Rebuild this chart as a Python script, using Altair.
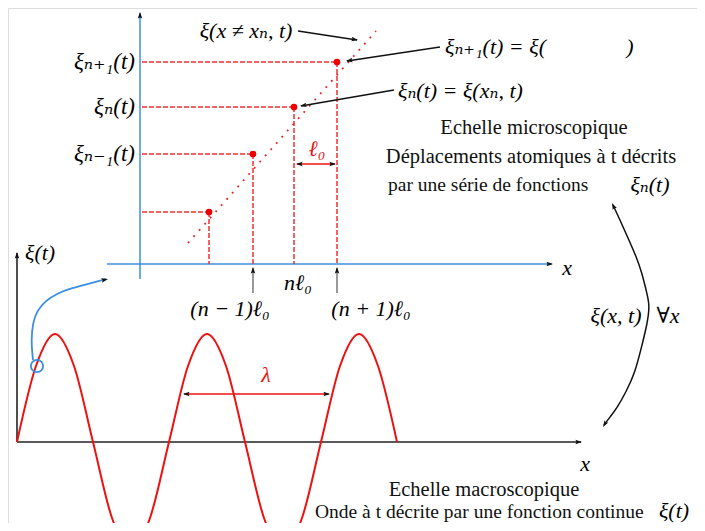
import math
import altair as alt
import pandas as pd

# ---------------- data (diagram units = picture pixels) ----------------
# top panel: atoms
atom_x = [209, 253, 294, 337]
atom_y = [212, 154, 107, 62]
axis_top_y = 264
axis_top_x0 = 142

# macroscopic wave: samples read every 1/8 period
wave_x = [17, 36, 55, 74, 93, 112, 131, 150, 169, 188, 207, 226, 245, 264, 283, 302, 321, 340, 359, 378, 397]
wave_y = [442, 366, 334, 366, 442, 518, 550, 518, 442, 366, 334, 366, 442, 518, 550, 518, 442, 366, 334, 366, 442]

# blue curve from circle to the top panel
blue_curve_x = [33, 31, 33, 37, 45, 58, 72, 88, 106]
blue_curve_y = [360, 340, 322, 311, 301, 293, 288, 284, 279]

# big double arrow arc
arc_x = [613, 620, 628, 636, 642, 646, 650, 647, 642, 635, 626, 617, 610, 604]
arc_y = [205, 220, 238, 256, 273, 290, 305, 325, 345, 373, 392, 408, 417, 425]

# straight segments: (x1, y1, x2, y2)
blue_segs = [(140, 279, 140, 13), (107, 264, 552, 264)]
red_dash_segs = [(axis_top_x0, y, x, y) for x, y in zip(atom_x, atom_y)] + \
                [(x, y, x, axis_top_y) for x, y in zip(atom_x, atom_y)]
red_dot_segs = [(188, 243, 376, 31)]
black_segs = [(298, 31, 357, 40), (440, 47, 347, 61), (394, 90, 301, 106)]
gray_segs = [(253, 293, 253, 268), (337, 293, 337, 268)]
black_axes = [(17, 442, 17, 253), (17, 442, 581, 442)]
red_solid_segs = [(297, 164, 335, 164), (184, 394, 329, 394)]

# arrow heads: (tip x, tip y, direction dx, direction dy)
heads = [
    (140, 12, 0, -1), (553, 264, 1, 0),
    (358, 40, 59, 9), (346, 61, -93, 14), (300, 106, -94, 16),
    (253, 267, 0, -1), (337, 267, 0, -1),
    (296, 164, -1, 0), (336, 164, 1, 0),
    (183, 394, -1, 0), (330, 394, 1, 0),
    (17, 252, 0, -1), (582, 442, 1, 0),
    (108, 279, 21, -5),
    (612, 203, -7, -15), (603, 427, -8, 13),
]

# texts
math_right = [("ξₙ₊₁(t)", 135, 62), ("ξₙ(t)", 135, 107), ("ξₙ₋₁(t)", 135, 154)]
math_left = [("ξₙ₊₁(t) = ξ(", 445, 47), ("ξₙ(t) = ξ(xₙ, t)", 398, 91), ("ξ(t)", 25, 253)]
math_center = [
    ("ξ(x ≠ xₙ, t)", 246, 31, "black"), (")", 630, 47, "black"),
    ("ℓ₀", 317, 149, "#ee1111"), ("nℓ₀", 298, 283, "black"),
    ("(n − 1)ℓ₀", 230, 309, "black"), ("(n + 1)ℓ₀", 371, 309, "black"),
    ("x", 567, 268, "black"), ("x", 585, 464, "black"),
    ("λ", 266, 375, "#ee1111"), ("ξ(x, t)", 616, 316, "black"),
    ("∀x", 668, 316, "black"), ("ξₙ(t)", 650, 185, "black"),
    ("ξ(t)", 674, 511, "black"),
]
roman_center = [("Echelle microscopique", 534, 128),
                ("Déplacements atomiques à t décrits", 531, 157),
                ("Echelle macroscopique", 484, 490)]
roman_left = [("par une série de fonctions", 388, 185),
              ("Onde à t décrite par une fonction continue", 315, 512)]

# ---------------- chart ----------------
XS = alt.Scale(domain=[8, 697], nice=False, zero=False)
YS = alt.Scale(domain=[523, 8], nice=False, zero=False)


def X(f="x"):
    return alt.X(f"{f}:Q", scale=XS, axis=None)


def Y(f="y"):
    return alt.Y(f"{f}:Q", scale=YS, axis=None)


def seg_df(segs):
    return pd.DataFrame(segs, columns=["x", "y", "x2", "y2"])


def seg_layer(segs, color, width, dash=None):
    kw = dict(color=color, strokeWidth=width)
    if dash:
        kw["strokeDash"] = dash
    return alt.Chart(seg_df(segs)).mark_rule(**kw).encode(
        x=X(), y=Y(), x2="x2:Q", y2="y2:Q")


def curve_layer(xs, ys, color, width, interp="monotone", clip=False):
    df = pd.DataFrame({"x": xs, "y": ys, "i": range(len(xs))})
    return alt.Chart(df).mark_line(color=color, strokeWidth=width,
                                   interpolate=interp, clip=clip).encode(
        x=X(), y=Y(), order="i:Q")


layers = []
layers.append(seg_layer(blue_segs, "#3b8fe0", 1.5))
layers.append(seg_layer(red_dash_segs, "#f03030", 1.5, [5, 2]))
layers.append(seg_layer(red_dot_segs, "#f02020", 1.8, [1.8, 6.5]))
layers.append(seg_layer(black_segs, "#111111", 1.3))
layers.append(seg_layer(gray_segs, "#555555", 1.2))
layers.append(seg_layer(black_axes, "#222222", 1.6))
layers.append(seg_layer(red_solid_segs, "#ee1111", 1.6))
layers.append(curve_layer(wave_x, wave_y, "#ee1111", 2.0, clip=True))
layers.append(curve_layer(blue_curve_x, blue_curve_y, "#3b8fe0", 1.8, interp="basis"))
layers.append(curve_layer(arc_x, arc_y, "#111111", 1.5, interp="basis"))

atoms = pd.DataFrame({"x": atom_x, "y": atom_y})
layers.append(alt.Chart(atoms).mark_point(filled=True, shape="circle", size=45,
                                          color="#ee0000", opacity=1).encode(x=X(), y=Y()))
circ = pd.DataFrame({"x": [37], "y": [366]})
layers.append(alt.Chart(circ).mark_point(filled=False, shape="circle", size=150,
                                         color="#3b8fe0", strokeWidth=1.8, opacity=1).encode(x=X(), y=Y()))

hd = pd.DataFrame([(x, y, (math.degrees(math.atan2(dx, -dy)) + 360) % 360)
                   for x, y, dx, dy in heads], columns=["x", "y", "a"])
layers.append(alt.Chart(hd).mark_point(filled=True, shape="M0,0L-0.75,2.2L0,1.8L0.75,2.2Z",
                                       size=36, color="#111111", opacity=1).encode(
    x=X(), y=Y(), angle=alt.Angle("a:Q", scale=None)))

FONT = "'Liberation Serif', 'DejaVu Serif', 'Times New Roman', serif"


def text_layer(rows, align, style, size, color=None):
    if color is None:
        df = pd.DataFrame(rows, columns=["t", "x", "y", "c"])
    else:
        df = pd.DataFrame([(t, x, y, color) for t, x, y in rows], columns=["t", "x", "y", "c"])
    return alt.Chart(df).mark_text(font=FONT, fontStyle=style, align=align,
                                   baseline="middle", fontSize=size).encode(
        x=X(), y=Y(), text="t:N", color=alt.Color("c:N", scale=None))


layers.append(text_layer(math_right, "right", "italic", 23, "black"))
layers.append(text_layer(math_left, "left", "italic", 22, "black"))
layers.append(text_layer(math_center, "center", "italic", 22))
layers.append(text_layer(roman_center, "center", "normal", 20.5, "#111111"))
layers.append(text_layer(roman_left, "left", "normal", 19.5, "#111111"))

chart = alt.layer(*layers).properties(
    width=689, height=515, autosize=alt.AutoSizeParams(type="none"), padding=0
).configure_view(stroke=None).configure(background="white")

chart.save("out.html", embed_options={"renderer": "svg", "actions": False})
